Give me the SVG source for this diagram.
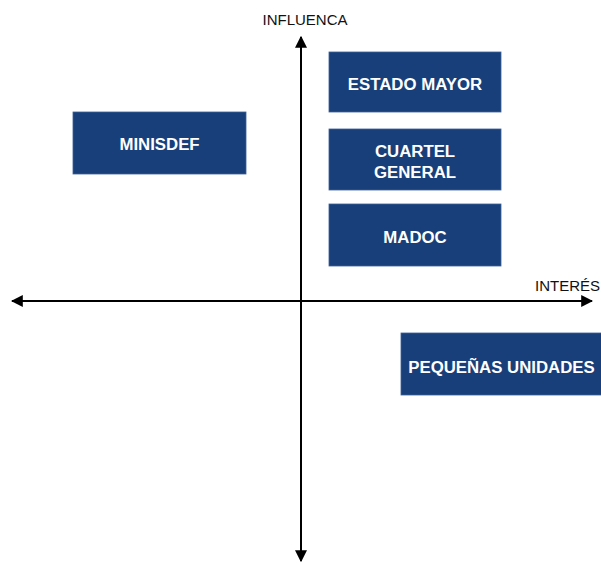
<svg xmlns="http://www.w3.org/2000/svg" width="601" height="563" viewBox="0 0 601 563">
<style>
.box{fill:#183f7a;stroke:#3d6198;stroke-width:0.8}
.t{font-family:"Liberation Sans",Arial,sans-serif;font-weight:bold;font-size:16.8px;fill:#ffffff;text-anchor:middle}
.ax{stroke:#000;stroke-width:2;fill:none}
.lab{font-family:"Liberation Sans",Arial,sans-serif;font-size:15px;fill:#111}
</style>
<defs>
<marker id="ah" viewBox="0 0 10 10" refX="9" refY="5" markerWidth="6" markerHeight="6" orient="auto-start-reverse" markerUnits="strokeWidth">
<path d="M0,0 L10,5 L0,10 z" fill="#000"/>
</marker>
</defs>
<rect width="601" height="563" fill="#fff"/>
<g id="connectors">
<line class="ax" x1="301" y1="37" x2="301" y2="561" marker-start="url(#ah)" marker-end="url(#ah)"/>
<line class="ax" x1="12" y1="301" x2="592" y2="301" marker-start="url(#ah)" marker-end="url(#ah)"/>
</g>
<g id="label-influenca"><text class="lab" x="305" y="25" text-anchor="middle">INFLUENCA</text></g>
<g id="label-interes"><text class="lab" x="600" y="291" text-anchor="end">INTERÉS</text></g>
<g id="estado-mayor"><rect class="box" x="329" y="52" width="172" height="60"/><text class="t" x="415" y="90">ESTADO MAYOR</text></g>
<g id="cuartel-general"><rect class="box" x="329" y="129" width="172" height="61"/><text class="t" x="415" y="157">CUARTEL</text><text class="t" x="415" y="178">GENERAL</text></g>
<g id="madoc"><rect class="box" x="329" y="204" width="172" height="62"/><text class="t" x="415" y="243">MADOC</text></g>
<g id="minisdef"><rect class="box" x="73" y="112" width="173" height="62"/><text class="t" x="159.5" y="149.5">MINISDEF</text></g>
<g id="pequenas-unidades"><rect class="box" x="401" y="333" width="201" height="62"/><text class="t" x="501.5" y="372.5">PEQUEÑAS UNIDADES</text></g>
</svg>
